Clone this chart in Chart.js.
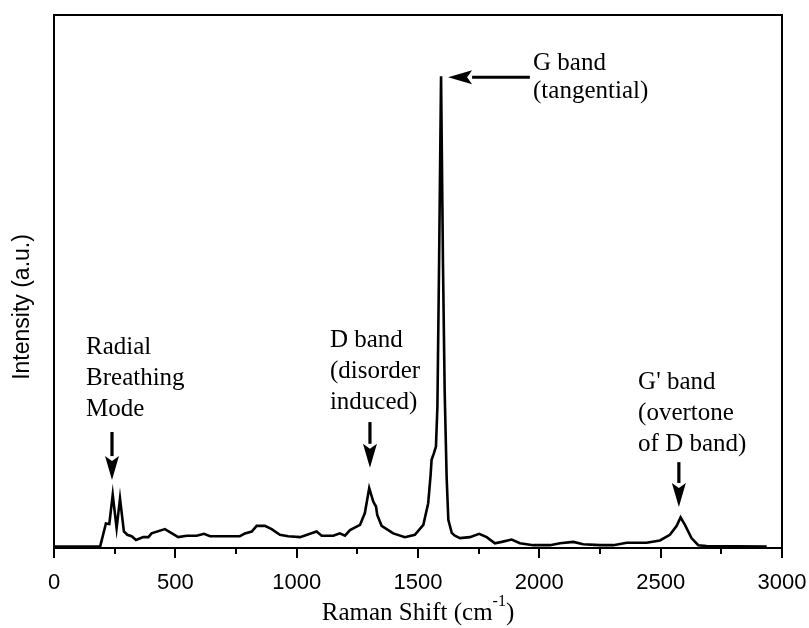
<!DOCTYPE html>
<html lang="en">
<head>
  <meta charset="UTF-8" />
  <title>Raman spectrum</title>
  <script src="https://cdn.jsdelivr.net/npm/chart.js"></script>
  <style>
    body {
      margin: 0;
      background: #fff;
    }
    canvas {
      display: block;
    }
  </style>
</head>
<body>
  <canvas id="chart" width="809" height="628"></canvas>

  <script>
    // spectrum: Raman shift (cm-1) and intensity (a.u., G peak = 1)
    const ramanShift = [
      0, 180, 190, 214, 228, 242, 258, 272, 288, 302, 320, 338, 368, 389, 402, 457,
      512, 547, 588, 618, 643, 766, 787, 815, 835, 869, 897, 931, 965, 1014, 1082,
      1103, 1151, 1178, 1199, 1220, 1261, 1281, 1299, 1316, 1327, 1332, 1350, 1398,
      1446, 1487, 1522, 1542, 1552, 1556, 1565, 1574, 1580, 1587, 1595, 1603, 1610,
      1618, 1625, 1639, 1652, 1673, 1714, 1752, 1783, 1817, 1845, 1886, 1920, 1975,
      2044, 2085, 2140, 2181, 2250, 2305, 2360, 2442, 2497, 2538, 2566, 2582, 2600,
      2627, 2655, 2689, 2937
    ];
    const intensity = [
      0.003, 0.003, 0.003, 0.052, 0.051, 0.113, 0.042, 0.105, 0.035, 0.028, 0.025,
      0.017, 0.023, 0.023, 0.031, 0.040, 0.023, 0.026, 0.026, 0.030, 0.025, 0.025,
      0.031, 0.035, 0.047, 0.047, 0.040, 0.028, 0.025, 0.023, 0.035, 0.026, 0.026,
      0.031, 0.026, 0.038, 0.049, 0.074, 0.127, 0.098, 0.088, 0.070, 0.047, 0.031,
      0.023, 0.028, 0.049, 0.095, 0.155, 0.187, 0.200, 0.215, 0.300, 0.610, 1.000,
      0.600, 0.330, 0.150, 0.060, 0.032, 0.026, 0.021, 0.023, 0.030, 0.023, 0.010,
      0.013, 0.018, 0.010, 0.006, 0.006, 0.010, 0.013, 0.008, 0.006, 0.006, 0.011,
      0.011, 0.016, 0.028, 0.047, 0.065, 0.049, 0.021, 0.006, 0.004, 0.003
    ];

    const xTitle = 'Raman Shift (cm';
    const xTitleSup = '-1';
    const yTitle = 'Intensity (a.u.)';

    // band annotations, anchored in data units (first line)
    const bandText = [
      ['Radial', 'Breathing', 'Mode'],
      ['D band', '(disorder', 'induced)'],
      ['G band', '(tangential)'],
      ["G' band", '(overtone', 'of D band)']
    ];
    const bandTextX = [132, 1137, 1974, 2407];
    const bandTextY = [0.426, 0.441, 1.028, 0.350];

    // arrows: from (x1, y1) to tip (x2, y2), data units
    const arrowFrom = [[239, 0.246], [1302, 0.267], [1961, 0.998], [2575, 0.182]];
    const arrowTo = [[239, 0.144], [1302, 0.170], [1624, 0.998], [2575, 0.087]];

    const serif = '"Liberation Serif", "Times New Roman", serif';
    const sans = '"Liberation Sans", Arial, sans-serif';

    function drawArrow(ctx, x1, y1, x2, y2) {
      const ang = Math.atan2(y2 - y1, x2 - x1);
      const head = 24, half = 7;
      const bx = x2 - head * Math.cos(ang);
      const by = y2 - head * Math.sin(ang);
      ctx.beginPath();
      ctx.moveTo(x1, y1);
      ctx.lineTo(bx, by);
      ctx.lineWidth = 3.2;
      ctx.stroke();
      ctx.beginPath();
      ctx.moveTo(x2, y2);
      ctx.lineTo(bx + half * Math.sin(ang), by - half * Math.cos(ang));
      ctx.lineTo(bx + 5 * Math.cos(ang), by + 5 * Math.sin(ang));
      ctx.lineTo(bx - half * Math.sin(ang), by + half * Math.cos(ang));
      ctx.closePath();
      ctx.fill();
    }

    const decorations = {
      id: 'decorations',
      afterDatasetsDraw(chart) {
        const { ctx, chartArea: a, scales: { x, y } } = chart;
        ctx.save();
        ctx.strokeStyle = '#000';
        ctx.fillStyle = '#000';

        // frame
        ctx.lineWidth = 2;
        ctx.strokeRect(a.left, a.top, a.right - a.left, a.bottom - a.top);

        // x ticks, outward, minor every 250
        for (let v = 0; v <= 3000; v += 250) {
          const px = Math.round(x.getPixelForValue(v));
          ctx.beginPath();
          ctx.moveTo(px, a.bottom);
          ctx.lineTo(px, a.bottom + (v % 500 === 0 ? 10 : 6));
          ctx.stroke();
        }

        // annotations
        ctx.font = '25px ' + serif;
        ctx.textAlign = 'left';
        ctx.textBaseline = 'middle';
        bandText.forEach((lines, i) => {
          const px = x.getPixelForValue(bandTextX[i]);
          const py = y.getPixelForValue(bandTextY[i]);
          const gap = lines.length === 2 ? 28 : 31;
          lines.forEach((t, j) => ctx.fillText(t, px, py + j * gap));
        });
        arrowFrom.forEach((p, i) => {
          drawArrow(ctx,
            x.getPixelForValue(p[0]), y.getPixelForValue(p[1]),
            x.getPixelForValue(arrowTo[i][0]), y.getPixelForValue(arrowTo[i][1]));
        });

        // x title with superscript
        ctx.font = '25px ' + serif;
        const w1 = ctx.measureText(xTitle).width;
        ctx.font = '16px ' + serif;
        const w2 = ctx.measureText(xTitleSup).width;
        ctx.font = '25px ' + serif;
        const w3 = ctx.measureText(')').width;
        let tx = (a.left + a.right) / 2 - (w1 + w2 + w3) / 2;
        const ty = 613;
        ctx.fillText(xTitle, tx, ty);
        tx += w1;
        ctx.font = '16px ' + serif;
        ctx.fillText(xTitleSup, tx, ty - 11);
        tx += w2;
        ctx.font = '25px ' + serif;
        ctx.fillText(')', tx, ty);

        // y title
        ctx.save();
        ctx.translate(23, 307);
        ctx.rotate(-Math.PI / 2);
        ctx.textAlign = 'center';
        ctx.font = '23px ' + sans;
        ctx.fillText(yTitle, 0, 0);
        ctx.restore();

        ctx.restore();
      }
    };

    new Chart(document.getElementById('chart'), {
      type: 'line',
      data: {
        datasets: [{
          data: ramanShift.map((r, i) => ({ x: r, y: intensity[i] })),
          borderColor: '#000',
          borderWidth: 2.6,
          pointRadius: 0,
          tension: 0,
          fill: false
        }]
      },
      options: {
        responsive: false,
        animation: false,
        devicePixelRatio: 1,
        layout: { padding: { top: 15, right: 27, left: 0, bottom: 0 } },
        plugins: {
          legend: { display: false },
          tooltip: { enabled: false }
        },
        scales: {
          x: {
            type: 'linear',
            min: 0,
            max: 3000,
            afterFit: s => {
              s.height = 80;
              s.paddingLeft = 0;
              s.paddingRight = 0;
            },
            grid: { display: false },
            border: { display: false },
            ticks: {
              stepSize: 500,
              padding: 14,
              maxRotation: 0,
              color: '#000',
              font: { family: sans, size: 22 },
              callback: v => String(v)
            }
          },
          y: {
            min: 0,
            max: 1.13,
            afterFit: s => { s.width = 54; },
            grid: { display: false },
            border: { display: false },
            ticks: { display: false }
          }
        }
      },
      plugins: [decorations]
    });
  </script>
</body>
</html>
